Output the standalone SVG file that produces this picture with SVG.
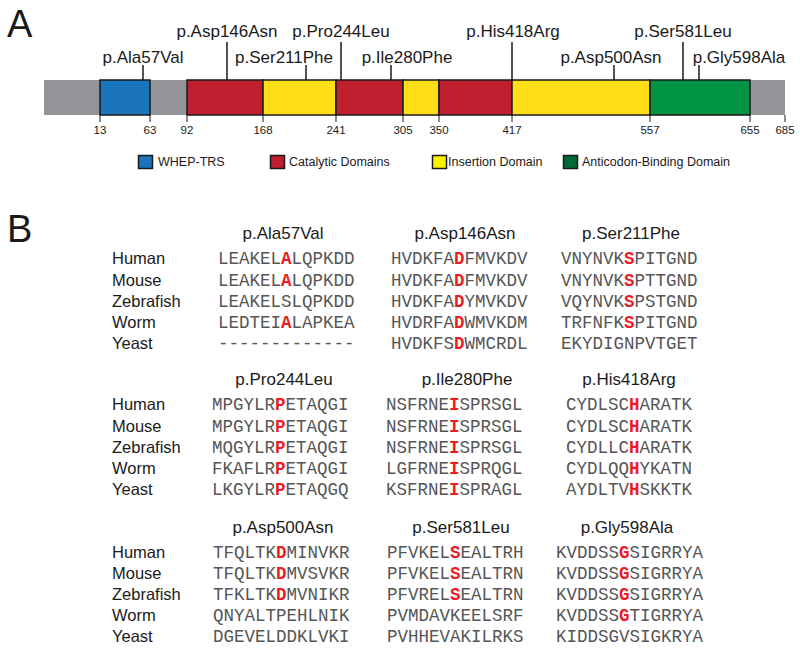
<svg xmlns="http://www.w3.org/2000/svg" width="800" height="652" viewBox="0 0 800 652">
<style>
.lbl{font-family:"Liberation Sans",Arial,sans-serif;font-size:17px;fill:#1a1a1a;text-anchor:middle}
.big{font-family:"Liberation Sans",Arial,sans-serif;font-size:38px;fill:#1a1a1a}
.tick{font-family:"Liberation Sans",Arial,sans-serif;font-size:11.5px;fill:#1a1a1a;text-anchor:middle}
.leg{font-family:"Liberation Sans",Arial,sans-serif;font-size:12.5px;fill:#1a1a1a}
.sp{font-family:"Liberation Sans",Arial,sans-serif;font-size:16.5px;fill:#1a1a1a}
.seq{font-family:"Liberation Mono","Courier New",monospace;font-size:17.5px;fill:#555555}
.hl{fill:#ed1c24;font-weight:bold}
.dom{stroke:#1a1a1a;stroke-width:1.5}
.ln{stroke:#1a1a1a;stroke-width:1.5;fill:none}
.tk{stroke:#1a1a1a;stroke-width:1}
</style>
<rect width="800" height="652" fill="#ffffff"/>
<text class="big" x="7" y="37">A</text>
<g id="bar">
<rect x="44" y="80" width="741" height="35" fill="#939598"/>
<rect id="whep" class="dom" x="100" y="80" width="50" height="35" fill="#1b75bc"/>
<rect id="cat1" class="dom" x="187" y="80" width="76" height="35" fill="#be1e2d"/>
<rect id="ins1" class="dom" x="263" y="80" width="73" height="35" fill="#ffde17"/>
<rect id="cat2" class="dom" x="336" y="80" width="67" height="35" fill="#be1e2d"/>
<rect id="ins2" class="dom" x="403" y="80" width="36" height="35" fill="#ffde17"/>
<rect id="cat3" class="dom" x="439" y="80" width="73" height="35" fill="#be1e2d"/>
<rect id="ins3" class="dom" x="512" y="80" width="138" height="35" fill="#ffde17"/>
<rect id="acb" class="dom" x="650" y="80" width="100" height="35" fill="#009444"/>
</g>
<g id="ticks">
<g class="tk">
<line x1="100" y1="115" x2="100" y2="122"/><line x1="150" y1="115" x2="150" y2="122"/>
<line x1="187" y1="115" x2="187" y2="122"/><line x1="263" y1="115" x2="263" y2="122"/>
<line x1="336" y1="115" x2="336" y2="122"/><line x1="403" y1="115" x2="403" y2="122"/>
<line x1="439" y1="115" x2="439" y2="122"/><line x1="512" y1="115" x2="512" y2="122"/>
<line x1="650" y1="115" x2="650" y2="122"/><line x1="750" y1="115" x2="750" y2="122"/>
<line x1="785" y1="115" x2="785" y2="122"/>
</g>
<text class="tick" x="100" y="134">13</text><text class="tick" x="150" y="134">63</text>
<text class="tick" x="187" y="134">92</text><text class="tick" x="263" y="134">168</text>
<text class="tick" x="336" y="134">241</text><text class="tick" x="403" y="134">305</text>
<text class="tick" x="439" y="134">350</text><text class="tick" x="512" y="134">417</text>
<text class="tick" x="650" y="134">557</text><text class="tick" x="750" y="134">655</text>
<text class="tick" x="785" y="134">685</text>
</g>
<g id="connectors">
<line class="ln" x1="143" y1="65" x2="143" y2="80"/>
<line class="ln" x1="227" y1="42" x2="227" y2="80"/>
<line class="ln" x1="306" y1="65" x2="306" y2="80"/>
<line class="ln" x1="341" y1="42" x2="341" y2="80"/>
<line class="ln" x1="391" y1="65" x2="391" y2="80"/>
<line class="ln" x1="512" y1="42" x2="512" y2="80"/>
<line class="ln" x1="614" y1="65" x2="614" y2="80"/>
<line class="ln" x1="683" y1="42" x2="683" y2="80"/>
<line class="ln" x1="699" y1="65" x2="699" y2="80"/>
</g>
<g id="mut-labels">
<text class="lbl" x="143" y="63">p.Ala57Val</text>
<text class="lbl" x="227" y="37">p.Asp146Asn</text>
<text class="lbl" x="284" y="63">p.Ser211Phe</text>
<text class="lbl" x="341" y="37">p.Pro244Leu</text>
<text class="lbl" x="407" y="63">p.Ile280Phe</text>
<text class="lbl" x="513" y="37">p.His418Arg</text>
<text class="lbl" x="611" y="63">p.Asp500Asn</text>
<text class="lbl" x="683" y="37">p.Ser581Leu</text>
<text class="lbl" x="739" y="63">p.Gly598Ala</text>
</g>
<g id="legend">
<rect class="dom" x="138.5" y="155.5" width="14" height="13" fill="#1b75bc"/>
<text class="leg" x="158" y="166">WHEP-TRS</text>
<rect class="dom" x="270.5" y="155.5" width="14" height="13" fill="#be1e2d"/>
<text class="leg" x="289" y="166">Catalytic Domains</text>
<rect class="dom" x="432.5" y="155.5" width="14" height="13" fill="#fff200"/>
<text class="leg" x="448" y="166">Insertion Domain</text>
<rect class="dom" x="563.5" y="155.5" width="14" height="13" fill="#006838"/>
<text class="leg" x="582" y="166">Anticodon-Binding Domain</text>
</g>
<text class="big" x="7" y="242">B</text>
<g id="species">
<text class="sp" x="112" y="264">Human</text><text class="sp" x="112" y="285.5">Mouse</text><text class="sp" x="112" y="306.5">Zebrafish</text><text class="sp" x="112" y="328">Worm</text><text class="sp" x="112" y="349">Yeast</text>
<text class="sp" x="112" y="410">Human</text><text class="sp" x="112" y="431.5">Mouse</text><text class="sp" x="112" y="452.5">Zebrafish</text><text class="sp" x="112" y="474">Worm</text><text class="sp" x="112" y="495">Yeast</text>
<text class="sp" x="112" y="558">Human</text><text class="sp" x="112" y="579">Mouse</text><text class="sp" x="112" y="600">Zebrafish</text><text class="sp" x="112" y="621">Worm</text><text class="sp" x="112" y="642">Yeast</text>
</g>
<g id="aln-Ala57Val">
<text class="lbl" x="283" y="239">p.Ala57Val</text>
<text class="seq" x="218" y="264">LEAKEL<tspan class="hl">A</tspan>LQPKDD</text>
<text class="seq" x="218" y="285.5">LEAKEL<tspan class="hl">A</tspan>LQPKDD</text>
<text class="seq" x="218" y="306.5">LEAKELSLQPKDD</text>
<text class="seq" x="218" y="328">LEDTEI<tspan class="hl">A</tspan>LAPKEA</text>
<text class="seq" x="218" y="349">-------------</text>
</g>
<g id="aln-Asp146Asn">
<text class="lbl" x="465" y="239">p.Asp146Asn</text>
<text class="seq" x="391" y="264">HVDKFA<tspan class="hl">D</tspan>FMVKDV</text>
<text class="seq" x="391" y="285.5">HVDKFA<tspan class="hl">D</tspan>FMVKDV</text>
<text class="seq" x="391" y="306.5">HVDKFA<tspan class="hl">D</tspan>YMVKDV</text>
<text class="seq" x="391" y="328">HVDRFA<tspan class="hl">D</tspan>WMVKDM</text>
<text class="seq" x="391" y="349">HVDKFS<tspan class="hl">D</tspan>WMCRDL</text>
</g>
<g id="aln-Ser211Phe">
<text class="lbl" x="631" y="239">p.Ser211Phe</text>
<text class="seq" x="561" y="264">VNYNVK<tspan class="hl">S</tspan>PITGND</text>
<text class="seq" x="561" y="285.5">VNYNVK<tspan class="hl">S</tspan>PTTGND</text>
<text class="seq" x="561" y="306.5">VQYNVK<tspan class="hl">S</tspan>PSTGND</text>
<text class="seq" x="561" y="328">TRFNFK<tspan class="hl">S</tspan>PITGND</text>
<text class="seq" x="561" y="349">EKYDIGNPVTGET</text>
</g>
<g id="aln-Pro244Leu">
<text class="lbl" x="284" y="385">p.Pro244Leu</text>
<text class="seq" x="212" y="410">MPGYLR<tspan class="hl">P</tspan>ETAQGI</text>
<text class="seq" x="212" y="431.5">MPGYLR<tspan class="hl">P</tspan>ETAQGI</text>
<text class="seq" x="212" y="452.5">MQGYLR<tspan class="hl">P</tspan>ETAQGI</text>
<text class="seq" x="212" y="474">FKAFLR<tspan class="hl">P</tspan>ETAQGI</text>
<text class="seq" x="212" y="495">LKGYLR<tspan class="hl">P</tspan>ETAQGQ</text>
</g>
<g id="aln-Ile280Phe">
<text class="lbl" x="467" y="385">p.Ile280Phe</text>
<text class="seq" x="386" y="410">NSFRNE<tspan class="hl">I</tspan>SPRSGL</text>
<text class="seq" x="386" y="431.5">NSFRNE<tspan class="hl">I</tspan>SPRSGL</text>
<text class="seq" x="386" y="452.5">NSFRNE<tspan class="hl">I</tspan>SPRSGL</text>
<text class="seq" x="386" y="474">LGFRNE<tspan class="hl">I</tspan>SPRQGL</text>
<text class="seq" x="386" y="495">KSFRNE<tspan class="hl">I</tspan>SPRAGL</text>
</g>
<g id="aln-His418Arg">
<text class="lbl" x="629" y="385">p.His418Arg</text>
<text class="seq" x="566" y="410">CYDLSC<tspan class="hl">H</tspan>ARATK</text>
<text class="seq" x="566" y="431.5">CYDLSC<tspan class="hl">H</tspan>ARATK</text>
<text class="seq" x="566" y="452.5">CYDLLC<tspan class="hl">H</tspan>ARATK</text>
<text class="seq" x="566" y="474">CYDLQQ<tspan class="hl">H</tspan>YKATN</text>
<text class="seq" x="566" y="495">AYDLTV<tspan class="hl">H</tspan>SKKTK</text>
</g>
<g id="aln-Asp500Asn">
<text class="lbl" x="283" y="533">p.Asp500Asn</text>
<text class="seq" x="213" y="558">TFQLTK<tspan class="hl">D</tspan>MINVKR</text>
<text class="seq" x="213" y="579">TFQLTK<tspan class="hl">D</tspan>MVSVKR</text>
<text class="seq" x="213" y="600">TFKLTK<tspan class="hl">D</tspan>MVNIKR</text>
<text class="seq" x="213" y="621">QNYALTPEHLNIK</text>
<text class="seq" x="213" y="642">DGEVELDDKLVKI</text>
</g>
<g id="aln-Ser581Leu">
<text class="lbl" x="461" y="533">p.Ser581Leu</text>
<text class="seq" x="387" y="558">PFVKEL<tspan class="hl">S</tspan>EALTRH</text>
<text class="seq" x="387" y="579">PFVKEL<tspan class="hl">S</tspan>EALTRN</text>
<text class="seq" x="387" y="600">PFVREL<tspan class="hl">S</tspan>EALTRN</text>
<text class="seq" x="387" y="621">PVMDAVKEELSRF</text>
<text class="seq" x="387" y="642">PVHHEVAKILRKS</text>
</g>
<g id="aln-Gly598Ala">
<text class="lbl" x="627" y="533">p.Gly598Ala</text>
<text class="seq" x="556" y="558">KVDDSS<tspan class="hl">G</tspan>SIGRRYA</text>
<text class="seq" x="556" y="579">KVDDSS<tspan class="hl">G</tspan>SIGRRYA</text>
<text class="seq" x="556" y="600">KVDDSS<tspan class="hl">G</tspan>SIGRRYA</text>
<text class="seq" x="556" y="621">KVDDSS<tspan class="hl">G</tspan>TIGRRYA</text>
<text class="seq" x="556" y="642">KIDDSGVSIGKRYA</text>
</g>
</svg>
